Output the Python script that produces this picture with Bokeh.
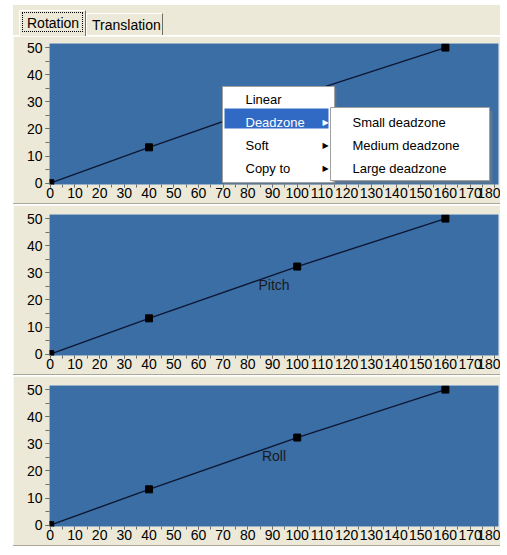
from bokeh.plotting import figure
from bokeh.models import Label, BoxAnnotation, SingleIntervalTicker, Range1d, ColumnDataSource, Spacer, Div
from bokeh.layouts import column
from bokeh.embed import file_html
from bokeh.resources import INLINE

# ---- data ----
x_points = [0, 40, 100, 160]
yaw_points = [0, 13.2, 32.3, 50]
pitch_points = [0, 13.2, 32.3, 50]
roll_points = [0, 13.2, 32.3, 50]
panel_names = ["", "Pitch", "Roll"]
tab_labels = ["Rotation", "Translation"]
menu_items = ["Linear", "Deadzone", "Soft", "Copy to"]
submenu_items = ["Small deadzone", "Medium deadzone", "Large deadzone"]

FONT = "Liberation Sans"
BG = "#ECE9D8"
BLUE = "#3A6EA5"
FS = "14px"
MFS = "13px"

W = 487
FRAME_H = 141


def box(p, l, r, t, b, fill=None, line=None, alpha=1.0, dash=None, lw=1):
    kw = dict(left=l, right=r, top=t, bottom=b,
              left_units="screen", right_units="screen",
              top_units="screen", bottom_units="screen",
              fill_color=fill, fill_alpha=alpha if fill else 0,
              line_color=line, line_alpha=1 if line else 0, line_width=lw)
    if dash:
        kw["line_dash"] = dash
    p.add_layout(BoxAnnotation(**kw))


def text(p, x, y, s, color="#000000", align="left", size=FS, font=FONT):
    p.add_layout(Label(x=x, y=y, x_units="screen", y_units="screen", text=s,
                       text_font=font, text_font_size=size, text_color=color,
                       text_align=align, text_baseline="middle"))


# ---- tab strip (HTML) ----
TAB_H = 31
abs_ = "position:absolute;box-sizing:border-box;"
tab_html = (
    f'<div style="position:relative;width:{W}px;height:{TAB_H}px;background:{BG};'
    f'font-family:\'{FONT}\';font-size:{FS};line-height:16px;color:#000;overflow:hidden;">'
    f'<div style="{abs_}left:0;top:30px;width:6px;height:1px;background:#fff;"></div>'
    f'<div style="{abs_}left:73px;top:30px;width:{W - 73}px;height:1px;background:#fff;"></div>'
    f'<div style="{abs_}left:73px;top:8px;width:77px;height:22px;border-left:1px solid #fff;'
    f'border-top:1px solid #fff;border-right:1px solid #716F64;"></div>'
    f'<div style="{abs_}left:6px;top:5px;width:67px;height:26px;background:{BG};border-left:1px solid #fff;'
    f'border-top:1px solid #fff;border-right:1px solid #716F64;"></div>'
    f'<div style="{abs_}left:9px;top:7px;width:61px;height:20px;border:1px dotted #000;"></div>'
    f'<span style="position:absolute;left:14px;top:10px;white-space:nowrap;">{tab_labels[0]}</span>'
    f'<span style="position:absolute;left:79px;top:12px;white-space:nowrap;">{tab_labels[1]}</span>'
    '</div>'
)
tabs = Div(text=tab_html, width=W, height=TAB_H, margin=(0, 0, 0, 0),
           styles={"background-color": BG})


def make_panel(name, ys, top=9):
    p = figure(width=W, height=top + FRAME_H + 19,
               x_range=Range1d(-0.3, 181.5), y_range=Range1d(-0.5, 51.5),
               output_backend="svg", toolbar_location=None,
               min_border_left=36, min_border_right=2,
               min_border_top=top, min_border_bottom=19,
               background_fill_color=BLUE, border_fill_color=BG,
               outline_line_color=None)
    p.grid.visible = False
    p.xaxis.ticker = SingleIntervalTicker(interval=10, num_minor_ticks=2)
    p.yaxis.ticker = SingleIntervalTicker(interval=10, num_minor_ticks=2)
    for ax in (p.xaxis[0], p.yaxis[0]):
        ax.axis_line_color = None
        ax.major_tick_line_color = "#6E6E6E"
        ax.minor_tick_line_color = "#6E6E6E"
        ax.major_label_text_font = FONT
        ax.major_label_text_font_size = FS
        ax.major_label_text_color = "#000000"
        ax.major_tick_in = 0
        ax.minor_tick_in = 0
    p.xaxis.major_tick_out = 3
    p.xaxis.minor_tick_out = 3
    p.xaxis.major_label_standoff = 0
    p.yaxis.major_tick_out = 4
    p.yaxis.minor_tick_out = 4
    p.yaxis.major_label_standoff = 3

    src = ColumnDataSource(dict(x=x_points, y=ys))
    p.line("x", "y", source=src, line_color="#0D1733", line_width=1.4)
    p.scatter("x", "y", source=src, marker="square", size=7,
              fill_color="#000000", line_color="#000000")

    if name:
        text(p, 449 / 2, FRAME_H / 2, name, color="#1A1A1A", align="center")
    return p


def sep(color):
    return Spacer(width=W, height=1, styles={"background-color": color})


p1 = make_panel(panel_names[0], yaw_points, top=7)
p2 = make_panel(panel_names[1], pitch_points)
p3 = make_panel(panel_names[2], roll_points)

# ---- context menu over p1 ----
box(p1, 174, 287, 96, -1, fill="#808080", alpha=0.5)
box(p1, 173, 285, 98, 2, fill="#FFFFFF", line="#A0A0A0")
box(p1, 175, 279, 76, 56, fill="#316AC5")
box(p1, 283, 443, 74, 1, fill="#808080", alpha=0.5)
box(p1, 281, 440, 77, 4, fill="#FFFFFF", line="#A0A0A0")

menu_y = [85, 62, 39, 16]
for i, item in enumerate(menu_items):
    col = "#FFFFFF" if i == 1 else "#000000"
    text(p1, 196, menu_y[i], item, color=col, size=MFS)
    if i >= 1:
        text(p1, 273, menu_y[i], "\u25B6", color=col, size="8px", font="DejaVu Sans")
for i, item in enumerate(submenu_items):
    text(p1, 303, menu_y[i + 1], item, size=MFS)

layout = column(tabs, p1, sep("#ACA899"), sep("#FFFFFF"),
                p2, sep("#ACA899"), sep("#FFFFFF"),
                p3, sep("#ACA899"), sep("#FFFFFF"),
                margin=(5, 0, 0, 13))
open("out.html", "w").write(file_html(layout, INLINE))
